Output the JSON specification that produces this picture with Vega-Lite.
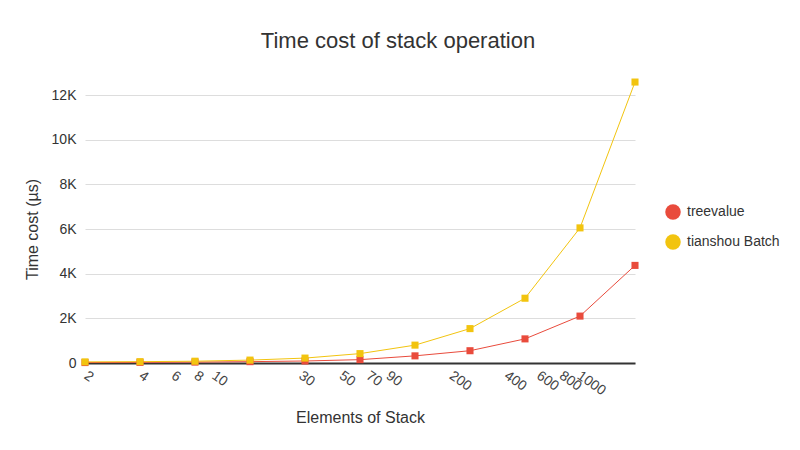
{
  "$schema": "https://vega.github.io/schema/vega-lite/v6.json",
  "autosize": "none",
  "width": 550,
  "height": 268,
  "padding": {"left": 85, "top": 95, "right": 165, "bottom": 87},
  "background": "white",
  "view": {"stroke": null},
  "title": {"text": "Time cost of stack operation", "fontSize": 22, "fontWeight": "normal", "color": "#333333", "font": "Liberation Sans", "anchor": "middle", "dx": 38, "offset": 26},
  "data": {"values": [
    {"n": 2, "series": "treevalue", "t": 20},
    {"n": 4, "series": "treevalue", "t": 28},
    {"n": 8, "series": "treevalue", "t": 40},
    {"n": 16, "series": "treevalue", "t": 60},
    {"n": 32, "series": "treevalue", "t": 90},
    {"n": 64, "series": "treevalue", "t": 150},
    {"n": 128, "series": "treevalue", "t": 320},
    {"n": 256, "series": "treevalue", "t": 550},
    {"n": 512, "series": "treevalue", "t": 1080},
    {"n": 1024, "series": "treevalue", "t": 2100},
    {"n": 2048, "series": "treevalue", "t": 4370},
    {"n": 2, "series": "tianshou Batch", "t": 50},
    {"n": 4, "series": "tianshou Batch", "t": 60},
    {"n": 8, "series": "tianshou Batch", "t": 80},
    {"n": 16, "series": "tianshou Batch", "t": 130},
    {"n": 32, "series": "tianshou Batch", "t": 220},
    {"n": 64, "series": "tianshou Batch", "t": 420},
    {"n": 128, "series": "tianshou Batch", "t": 800},
    {"n": 256, "series": "tianshou Batch", "t": 1540},
    {"n": 512, "series": "tianshou Batch", "t": 2900},
    {"n": 1024, "series": "tianshou Batch", "t": 6050},
    {"n": 2048, "series": "tianshou Batch", "t": 12580}
  ]},
  "encoding": {
    "x": {"field": "n", "type": "quantitative",
      "scale": {"type": "log", "base": 2, "domain": [2, 2048], "nice": false},
      "axis": {"title": "Elements of Stack", "titleFontSize": 16, "titleFontWeight": "normal", "titleColor": "#333333", "titleFont": "Liberation Sans", "titlePadding": 12,
        "values": [2, 4, 6, 8, 10, 30, 50, 70, 90, 200, 400, 600, 800, 1000], "format": "d",
        "labelAngle": 35, "labelAlign": "left", "labelBaseline": "middle", "labelFontSize": 14, "labelColor": "#444444", "labelFont": "Liberation Sans", "labelPadding": 11, "labelOverlap": false, "labelFlush": false,
        "ticks": false, "grid": false, "domainColor": "#333333", "domainWidth": 2}},
    "y": {"field": "t", "type": "quantitative",
      "scale": {"domain": [0, 12000], "nice": false},
      "axis": {"title": "Time cost (µs)", "titleFontSize": 16, "titleFontWeight": "normal", "titleColor": "#333333", "titleFont": "Liberation Sans", "titlePadding": 11,
        "values": [0, 2000, 4000, 6000, 8000, 10000, 12000], "labelExpr": "datum.value == 0 ? '0' : (datum.value/1000) + 'K'",
        "labelFontSize": 14, "labelColor": "#333333", "labelFont": "Liberation Sans", "labelPadding": 9,
        "ticks": false, "domain": false, "grid": true, "gridColor": "#dddddd", "gridWidth": 1}},
    "color": {"field": "series", "type": "nominal",
      "scale": {"domain": ["treevalue", "tianshou Batch"], "range": ["#e94b3c", "#f2c40f"]},
      "legend": {"title": null, "orient": "none", "legendX": 580, "legendY": 109, "symbolType": "circle", "symbolSize": 240, "symbolStrokeWidth": 0, "labelFontSize": 14, "labelColor": "#333333", "labelFont": "Liberation Sans", "rowPadding": 14, "labelOffset": 6}}
  },
  "layer": [
    {"mark": {"type": "line", "strokeWidth": 1, "clip": false}},
    {"mark": {"type": "square", "size": 50, "opacity": 1, "filled": true, "clip": false}}
  ]
}
